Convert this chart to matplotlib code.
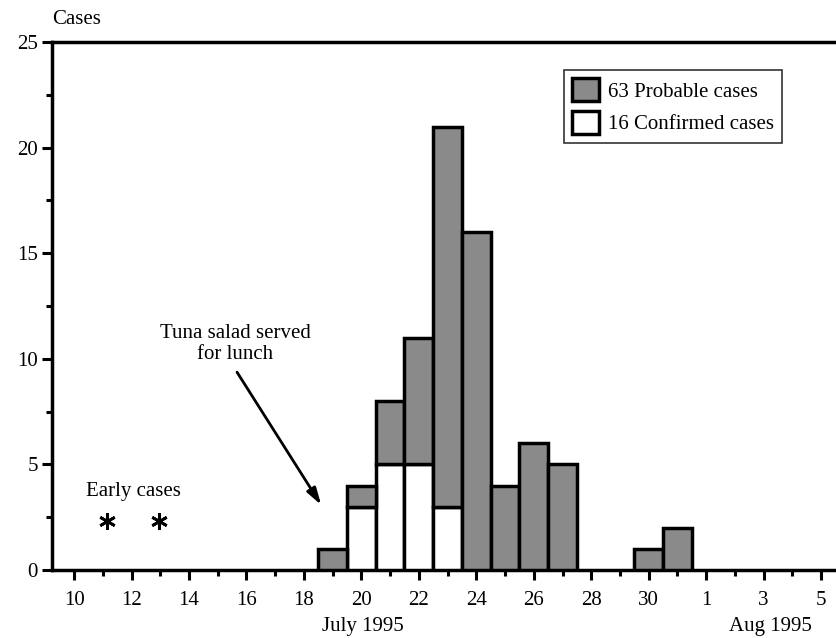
import matplotlib
matplotlib.use("Agg")
import matplotlib.pyplot as plt
from matplotlib.patches import Patch
import numpy as np

# Data: day index (July days; Aug 1 = 32)
days = [19, 20, 21, 22, 23, 24, 25, 26, 27, 28, 29, 30, 31]
confirmed = [0, 3, 5, 5, 3, 0, 0, 0, 0, 0, 0, 0, 0]
probable = [1, 1, 3, 6, 18, 16, 4, 6, 5, 0, 0, 1, 2]
early_days = [11.15, 12.95]
early_y = [2.3, 2.3]
tick_days = [10, 12, 14, 16, 18, 20, 22, 24, 26, 28, 30, 32, 34, 36]
tick_labels = ["10", "12", "14", "16", "18", "20", "22", "24", "26", "28", "30", "1", "3", "5"]

plt.rcParams['font.family'] = ['Liberation Serif', 'DejaVu Serif']
FS = 15

fig = plt.figure(figsize=(8.36, 6.38), dpi=100)
ax = fig.add_axes([0.0622, 0.1066, 1 - 0.0622, 0.934 - 0.1066])

gray = "#8a8a8a"
lw_bar = 2.5
ax.bar(days, confirmed, width=1.0, color="white", edgecolor="black", linewidth=lw_bar, zorder=3)
ax.bar(days, probable, width=1.0, bottom=confirmed, color=gray, edgecolor="black", linewidth=lw_bar, zorder=3)
for p in ax.patches:
    if p.get_height() == 0:
        p.set_visible(False)

ax.set_xlim(9.23, 36.52)
ax.set_ylim(0, 25)

ax.set_xticks(tick_days)
ax.set_xticklabels(tick_labels, fontsize=FS)
ax.set_xticks(np.arange(11, 37, 2), minor=True)
ax.set_yticks([0, 5, 10, 15, 20, 25])
ax.set_yticklabels(["0", "5", "10", "15", "20", "25"], fontsize=FS)
ax.set_yticks([2.5, 7.5, 12.5, 17.5, 22.5], minor=True)
ax.tick_params(axis='both', which='major', length=7, width=2.2, direction='out', pad=3)
ax.tick_params(axis='both', which='minor', length=4, width=2.2, direction='out')
ax.tick_params(axis='x', which='major', pad=8)

for s in ['left', 'bottom', 'top']:
    ax.spines[s].set_linewidth(2.5)
ax.spines['right'].set_visible(False)

# Early cases
ax.plot(early_days, early_y, linestyle='none', marker=(6, 2, 0), markersize=12,
        color='black', markeredgewidth=2.0)
ax.text(12.05, 3.7, "Early cases", fontsize=FS, ha='center', va='center')

# Tuna salad annotation
ax.text(15.6, 11.2, "Tuna salad served", fontsize=FS, ha='center', va='center')
ax.text(15.6, 10.2, "for lunch", fontsize=FS, ha='center', va='center')
ax.annotate("", xy=(18.6, 3.08), xytext=(15.67, 9.37),
            arrowprops=dict(arrowstyle='-|>,head_length=1.0,head_width=0.3', color='black', lw=2.0,
                            shrinkA=0, shrinkB=0))

# Legend
handles = [Patch(facecolor=gray, edgecolor='black', linewidth=2.5, label="63 Probable cases"),
           Patch(facecolor='white', edgecolor='black', linewidth=2.5, label="16 Confirmed cases")]
leg = ax.legend(handles=handles, loc='upper right', bbox_to_anchor=(0.931, 0.947), fontsize=FS,
                frameon=True, fancybox=False, edgecolor='black', handlelength=1.3, handleheight=1.3,
                borderpad=0.4, labelspacing=0.45, handletextpad=0.4, borderaxespad=0)
leg.get_frame().set_linewidth(1.2)

fig.text(52 / 836, 1 - 20 / 638, "Cases", fontsize=FS, ha='left', va='center')
fig.text(363 / 836, 1 - 627 / 638, "July 1995", fontsize=FS, ha='center', va='center')
fig.text(770 / 836, 1 - 627 / 638, "Aug 1995", fontsize=FS, ha='center', va='center')

fig.savefig("out.png", dpi=100)
